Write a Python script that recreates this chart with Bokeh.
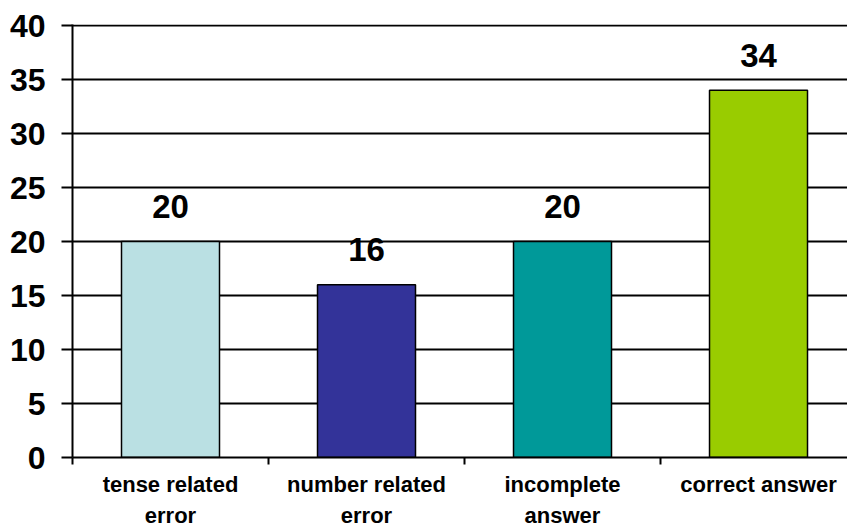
from bokeh.plotting import figure
from bokeh.models import Range1d, FixedTicker, ColumnDataSource
from bokeh.core.properties import value
from bokeh.embed import file_html
from bokeh.resources import INLINE

categories = ["tense related\nerror", "number related\nerror", "incomplete\nanswer", "correct answer"]
counts = [20, 16, 20, 34]
colors = ["#BAE0E3", "#333399", "#009999", "#99CC00"]
y_ticks = [0, 5, 10, 15, 20, 25, 30, 35, 40]

positions = [i + 0.5 for i in range(len(categories))]
src = ColumnDataSource(dict(x=positions, top=counts, color=colors,
                            label=[str(c) for c in counts]))

FONT = "Liberation Sans"

p = figure(width=847, height=530, output_backend="svg", toolbar_location=None,
           x_range=Range1d(0, 3.954), y_range=Range1d(0, 40.1),
           min_border_left=72, min_border_right=0, min_border_top=24, min_border_bottom=72)
p.outline_line_color = None
p.background_fill_color = "white"
p.border_fill_color = "white"

p.vbar(x="x", top="top", width=0.5, bottom=0, fill_color="color",
       line_color="black", line_width=1.5, source=src)

p.text(x="x", y="top", text="label", source=src, text_align="center",
       text_baseline="alphabetic", y_offset=-35, text_font=value(FONT),
       text_font_style="bold", text_font_size="33px", text_color="black")

# y axis
p.yaxis.ticker = FixedTicker(ticks=y_ticks)
p.yaxis.axis_line_color = "black"
p.yaxis.axis_line_width = 2
p.yaxis.major_tick_out = 11
p.yaxis.major_tick_in = 0
p.yaxis.major_tick_line_width = 2
p.yaxis.minor_tick_line_color = None
p.yaxis.major_label_text_font = FONT
p.yaxis.major_label_text_font_style = "bold"
p.yaxis.major_label_text_font_size = "32px"
p.yaxis.major_label_text_color = "black"
p.yaxis.major_label_standoff = 16

# x axis
p.xaxis.ticker = FixedTicker(ticks=positions, minor_ticks=[0, 1, 2, 3])
p.xaxis.major_label_overrides = {pos: lab for pos, lab in zip(positions, categories)}
p.xaxis.axis_line_color = "black"
p.xaxis.axis_line_width = 2
p.xaxis.major_tick_out = 0
p.xaxis.major_tick_in = 0
p.xaxis.major_tick_line_color = None
p.xaxis.minor_tick_out = 7
p.xaxis.minor_tick_in = 0
p.xaxis.minor_tick_line_color = "black"
p.xaxis.minor_tick_line_width = 2
p.xaxis.major_label_text_font = FONT
p.xaxis.major_label_text_font_style = "bold"
p.xaxis.major_label_text_font_size = "22px"
p.xaxis.major_label_text_color = "black"
p.xaxis.major_label_standoff = 7
p.xaxis.major_label_text_line_height = 1.25

p.xgrid.grid_line_color = None
p.ygrid.grid_line_color = "black"
p.ygrid.grid_line_width = 2
p.ygrid.ticker = FixedTicker(ticks=y_ticks)

open("out.html", "w").write(file_html(p, INLINE))
